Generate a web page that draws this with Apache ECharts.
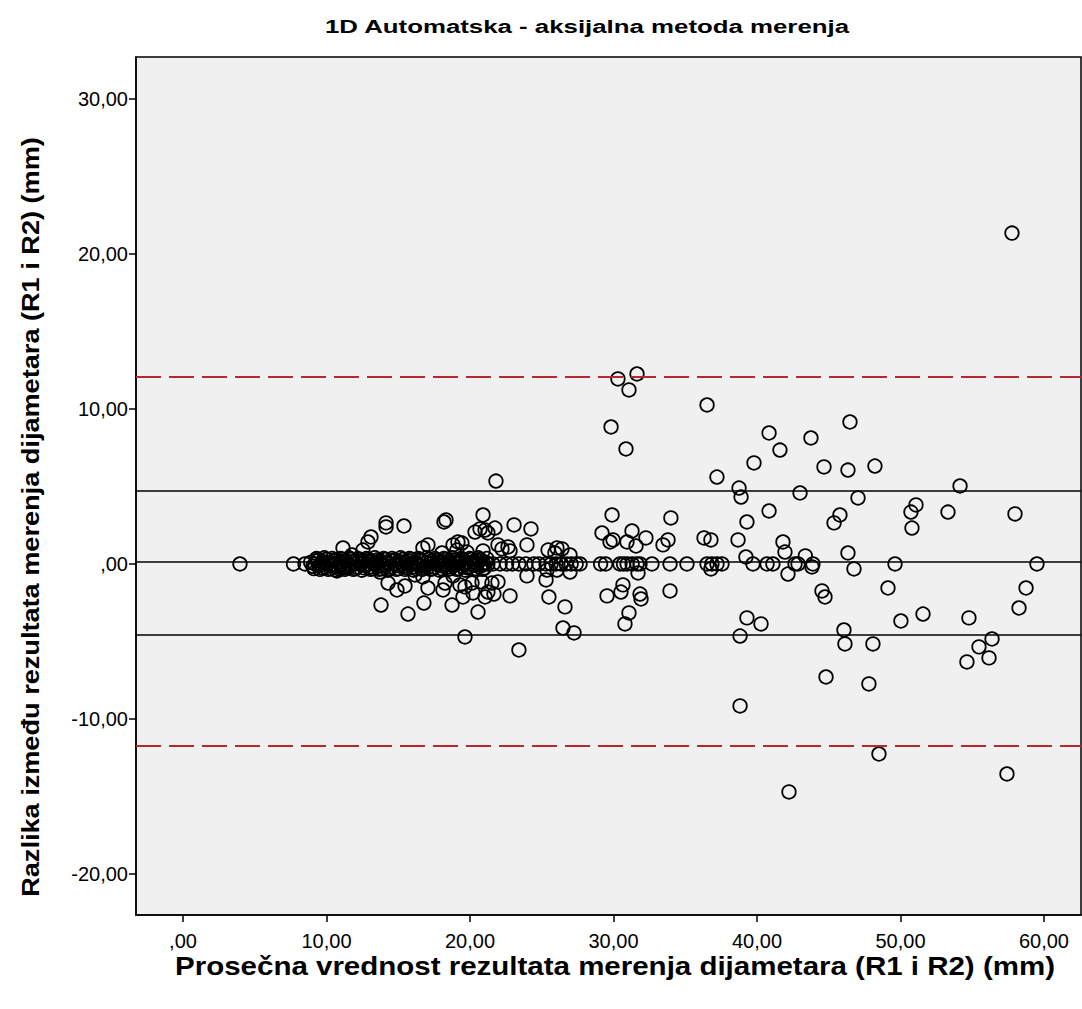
<!DOCTYPE html>
<html>
<head>
<meta charset="utf-8">
<script src="https://cdn.jsdelivr.net/npm/echarts@6/dist/echarts.min.js"></script>
<style>
html,body{margin:0;padding:0;background:#fff;}
#chart{width:1082px;height:1009px;}
</style>
</head>
<body>
<div id="chart"></div>
<script>
// Average of R1 and R2 (mm) for points lying on the zero-difference row
const zeroRowAvg = [3.97, 7.7, 8.5, 8.9, 9.05, 9.2, 9.35, 9.5, 9.6, 9.75, 9.9, 10.05, 10.2, 10.35, 10.5, 10.6, 10.75, 10.9, 11.05, 11.2, 11.35, 11.5, 11.65, 11.8, 11.95, 12.1, 12.25, 12.4, 12.55, 12.7, 12.85, 13.0, 13.15, 13.3, 13.45, 13.6, 13.75, 13.9, 14.05, 14.2, 14.35, 14.5, 14.65, 14.8, 14.95, 15.1, 15.25, 15.4, 15.55, 15.7, 15.85, 16.0, 16.15, 16.3, 16.45, 16.6, 16.75, 16.9, 17.05, 17.2, 17.35, 17.5, 17.65, 17.8, 17.95, 18.1, 18.25, 18.4, 18.55, 18.7, 18.85, 19.0, 19.15, 19.3, 19.45, 19.6, 19.75, 19.9, 20.05, 20.2, 20.35, 20.5, 20.65, 20.8, 20.95, 21.1, 21.25, 21.6, 22.1, 22.55, 22.95, 23.4, 23.9, 24.45, 24.8, 25.3, 25.65, 26.0, 26.35, 26.7, 27.05, 27.4, 27.67, 29.1, 29.45, 30.45, 30.7, 30.95, 31.3, 31.64, 31.85, 32.68, 33.94, 35.12, 36.52, 36.86, 37.21, 37.56, 39.72, 40.7, 41.11, 42.65, 42.86, 43.9, 49.62, 59.51];
// Difference R1 - R2 (mm) for the zero row (small offsets give the band its thickness)
const zeroRowDiff = [0, 0, 0, 0.1, -0.15, 0, 0.2, -0.1, 0, 0.15, -0.2, 0, 0.1, -0.1, 0.2, 0, -0.2, 0.1, 0, -0.15, 0.2, 0, -0.1, 0.15, 0, -0.2, 0.1, 0, 0.2, -0.1, 0, -0.2, 0.15, 0, 0.1, -0.15, 0.2, 0, -0.1, 0.1, 0, -0.2, 0.2, 0, -0.1, 0.15, 0, -0.15, 0.1, 0.2, 0, -0.2, 0.1, 0, -0.1, 0.2, 0, -0.15, 0.1, 0, 0.2, -0.2, 0, 0.1, -0.1, 0.15, 0, -0.2, 0.2, 0, -0.1, 0.1, 0, 0.2, -0.15, 0, 0.1, -0.2, 0, 0.15, -0.1, 0, 0.2, -0.1, 0, 0.1, 0, 0, 0, 0, 0, 0, 0, 0, 0, 0, 0, 0, 0, 0, 0, 0, 0, 0, 0, 0, 0, 0, 0, 0, 0, 0, 0, 0, 0, 0, 0, 0, 0, 0, 0, 0, 0, 0, 0, 0, 0, 0];
// Extra readings packed into the dense part of the zero row
const denseRowAvg = [9.12, 9.42, 9.68, 9.97, 10.28, 10.55, 10.82, 11.12, 11.42, 11.72, 12.02, 12.32, 12.62, 12.92, 13.22, 13.52, 13.82, 14.12, 14.42, 14.72, 15.02, 15.32, 15.62, 15.92, 16.22, 16.52, 16.82, 17.12, 17.42, 17.72, 18.02, 18.32, 18.62, 18.92, 19.22, 19.52, 19.82, 20.12, 20.42, 20.72, 21.02];
const denseRowDiff = [-0.3, 0.3, -0.25, 0.3, -0.3, 0.25, -0.3, 0.3, -0.25, 0.3, -0.3, 0.3, -0.25, 0.3, -0.3, 0.25, -0.3, 0.3, -0.3, 0.25, -0.3, 0.3, -0.25, 0.3, -0.3, 0.3, -0.25, 0.3, -0.3, 0.25, -0.3, 0.3, -0.3, 0.25, -0.3, 0.3, -0.25, 0.3, -0.3, 0.3, -0.25];
const denseRow2Avg = [9.3, 9.55, 9.85, 10.12, 10.4, 10.68, 10.97, 11.27, 11.57, 11.87, 12.17, 12.47, 12.77, 13.07, 13.37, 13.67, 13.97, 14.27, 14.57, 14.87, 15.17, 15.47, 15.77, 16.07, 16.37, 16.67, 16.97, 17.27, 17.57, 17.87, 18.17, 18.47, 18.77, 19.07, 19.37, 19.67, 19.97, 20.27, 20.57, 20.87, 21.17];
const denseRow2Diff = [0.35, -0.35, 0.4, -0.35, 0.35, -0.4, 0.35, -0.35, 0.4, -0.35, 0.35, -0.4, 0.35, -0.35, 0.4, -0.35, 0.35, -0.4, 0.35, -0.35, 0.4, -0.35, 0.35, -0.4, 0.35, -0.35, 0.4, -0.35, 0.35, -0.4, 0.35, -0.35, 0.4, -0.35, 0.35, -0.4, 0.35, -0.35, 0.4, -0.35, 0.35];

// Points off the zero row
const spreadAvg = [11.15, 11.78, 12.54, 12.89, 13.1, 14.15, 14.15, 15.4, 16.72, 17.07, 18.05, 18.19, 18.33, 18.82, 19.16, 19.44, 19.09, 19.79, 20.35, 20.7, 20.91, 21.05, 21.25, 21.74, 20.91, 21.95, 22.23, 22.65, 22.79, 23.07, 24.25, 23.97, 25.44, 26.06, 26.41, 25.92, 26.97, 21.81,
  10.73, 11.15, 13.73, 14.29, 14.91, 15.47, 13.8, 15.68, 16.17, 16.72, 17.07, 18.12, 18.26, 18.82, 19.3, 19.65, 20.14, 20.21, 20.84, 21.53, 21.95, 21.25, 21.67, 21.05, 22.79, 19.51, 18.75, 16.79, 20.56, 23.97, 19.65, 25.5, 23.41, 25.37, 26.97, 26.06, 25.3, 26.62, 26.48, 27.25,
  30.31, 31.64, 31.08, 29.83, 30.87, 29.9, 29.2, 29.97, 29.76, 30.94, 31.29, 31.57, 32.26, 33.45, 33.8, 34.0, 31.71, 30.66, 30.52, 29.55, 31.85, 31.92, 33.94, 31.08, 30.8,
  36.52, 36.31, 36.79, 36.79, 37.21, 38.75, 38.89, 38.68, 39.3, 39.23, 39.79, 40.84, 41.6, 40.84, 41.81, 41.95, 42.16, 43.37, 43.83, 43.76, 43.0, 44.67, 46.34, 48.22, 46.48, 47.04, 45.78, 45.37, 51.08, 50.73, 50.8, 53.31, 54.15, 57.98, 46.34, 46.76, 39.3, 40.28, 38.82, 38.82, 44.53, 44.74, 49.13, 58.75, 58.26, 51.57, 50.03, 54.77, 46.06, 46.13, 48.08, 56.38, 55.47, 56.17, 54.63, 44.81, 47.8, 48.5, 57.42, 42.23, 57.77];
const spreadDiff = [1.03, 0.58, 0.9, 1.42, 1.74, 2.65, 2.39, 2.45, 1.03, 1.23, 0.71, 2.71, 2.84, 1.23, 1.42, 1.35, 0.9, 0.77, 2.06, 2.26, 3.16, 2.19, 2.0, 2.32, 0.84, 1.23, 0.97, 1.1, 0.84, 2.52, 2.26, 1.23, 0.9, 1.03, 0.97, 0.71, 0.58, 5.35,
  -0.45, -0.26, -0.52, -1.23, -1.68, -1.42, -2.65, -3.23, -0.71, -0.84, -1.55, -1.68, -1.23, -0.77, -1.35, -1.48, -1.23, -1.87, -1.16, -1.23, -1.16, -1.81, -1.94, -2.13, -2.06, -2.13, -2.65, -2.52, -3.1, -0.77, -4.71, -2.13, -5.55, -0.39, -0.52, -0.39, -1.03, -2.77, -4.13, -4.45,
  11.94, 12.26, 11.23, 8.84, 7.42, 3.16, 2.0, 1.55, 1.42, 1.42, 2.13, 1.16, 1.68, 1.23, 1.55, 2.97, -0.58, -1.35, -1.81, -2.06, -1.94, -2.26, -1.74, -3.16, -3.87,
  10.26, 1.68, 1.55, -0.32, 5.61, 4.9, 4.32, 1.55, 2.71, 0.45, 6.52, 8.45, 7.35, 3.42, 1.42, 0.77, -0.65, 0.52, -0.19, 8.13, 4.58, 6.26, 6.06, 6.32, 9.16, 4.26, 3.16, 2.65, 3.81, 3.35, 2.32, 3.35, 5.03, 3.23, 0.71, -0.32, -3.48, -3.87, -4.65, -9.16, -1.74, -2.13, -1.55, -1.55, -2.84, -3.23, -3.68, -3.48, -4.26, -5.16, -5.16, -4.84, -5.35, -6.06, -6.32, -7.29, -7.74, -12.26, -13.55, -14.71, 21.35];

// Reference lines
const meanDiff = 0.12;
const sdLines = [4.75, -4.55];
const limitLines = [12.05, -11.75];

const xTicks = [0, 10, 20, 30, 40, 50, 60];
const yTicks = [-20, -10, 0, 10, 20, 30];

const titleText = '1D Automatska - aksijalna metoda merenja';
const xTitle = 'Prosečna vrednost rezultata merenja dijametara (R1 i R2) (mm)';
const yTitle = 'Razlika između rezultata merenja dijametara (R1 i R2) (mm)';

const points = [];
zeroRowAvg.forEach((x, i) => points.push([x, zeroRowDiff[i]]));
denseRowAvg.forEach((x, i) => points.push([x, denseRowDiff[i]]));
denseRow2Avg.forEach((x, i) => points.push([x, denseRow2Diff[i]]));
spreadAvg.forEach((x, i) => points.push([x, spreadDiff[i]]));

const fmt = v => v === 0 ? ',00' : v.toFixed(2).replace('.', ',');
const FONT = '"Liberation Sans", Arial, sans-serif';

const chart = echarts.init(document.getElementById('chart'), null, {renderer: 'svg'});
chart.setOption({
  animation: false,
  backgroundColor: '#ffffff',
  grid: {
    left: 136, right: 1, top: 57, bottom: 94, show: true,
    backgroundColor: '#f0f0f0', borderColor: '#000', borderWidth: 1.5
  },
  xAxis: {
    type: 'value', min: -3.275, max: 62.58,
    axisLine: {show: true, onZero: false, lineStyle: {color: '#000', width: 1.5}},
    axisTick: {show: true, length: 7, customValues: xTicks, lineStyle: {color: '#000', width: 1.5}},
    axisLabel: {customValues: xTicks, formatter: fmt, color: '#000', fontFamily: FONT, fontSize: 20, margin: 16},
    splitLine: {show: false}
  },
  yAxis: {
    type: 'value', min: -22.65, max: 32.71,
    axisLine: {show: true, onZero: false, lineStyle: {color: '#000', width: 1.5}},
    axisTick: {show: true, length: 7, customValues: yTicks, lineStyle: {color: '#000', width: 1.5}},
    axisLabel: {customValues: yTicks, formatter: fmt, color: '#000', fontFamily: FONT, fontSize: 20, margin: 8},
    splitLine: {show: false}
  },
  graphic: [
    {type: 'text', x: 587, y: 26, scaleX: 1.36,
     style: {text: titleText, fill: '#000', font: 'bold 19px ' + FONT, textAlign: 'center', textVerticalAlign: 'middle'}},
    {type: 'text', x: 31, y: 517, rotation: Math.PI / 2, scaleX: 1.18,
     style: {text: yTitle, fill: '#000', font: 'bold 23px ' + FONT, textAlign: 'center', textVerticalAlign: 'middle'}},
    {type: 'text', x: 615, y: 966, scaleX: 1.18,
     style: {text: xTitle, fill: '#000', font: 'bold 25px ' + FONT, textAlign: 'center', textVerticalAlign: 'middle'}}
  ],
  series: [{
    type: 'scatter',
    data: points,
    symbol: 'circle',
    symbolSize: 13.5,
    itemStyle: {color: 'rgba(0,0,0,0)', borderColor: '#000', borderWidth: 1.8, opacity: 1},
    emphasis: {disabled: true},
    markLine: {
      silent: true, symbol: 'none', label: {show: false}, animation: false,
      data: [
        {yAxis: limitLines[0], lineStyle: {color: '#b02a2e', width: 1.8, type: [25, 8]}},
        {yAxis: limitLines[1], lineStyle: {color: '#b02a2e', width: 1.8, type: [25, 8]}},
        {yAxis: sdLines[0], lineStyle: {color: '#000', width: 1.5, type: 'solid'}},
        {yAxis: sdLines[1], lineStyle: {color: '#000', width: 1.5, type: 'solid'}},
        {yAxis: meanDiff, lineStyle: {color: '#000', width: 1.5, type: 'solid'}}
      ]
    }
  }]
});
</script>
</body>
</html>
